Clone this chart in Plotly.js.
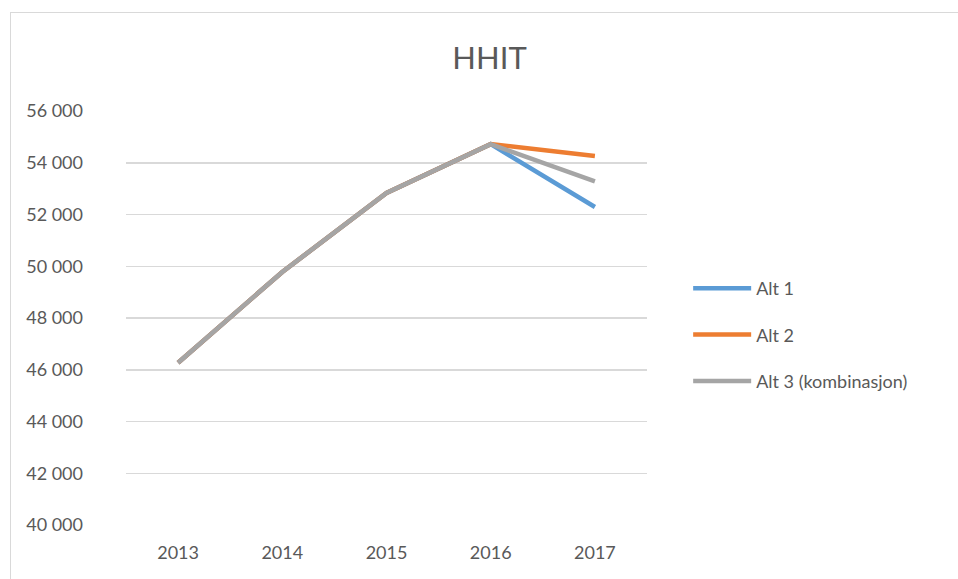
<!DOCTYPE html>
<html>
<head>
<meta charset="utf-8">
<script src="https://cdn.plot.ly/plotly-3.0.1.min.js"></script>
<style>
html,body{margin:0;padding:0;background:#fff;overflow:hidden;}
#chart{position:absolute;left:0;top:0;width:958px;height:579px;}
#frame{position:absolute;left:10px;top:12px;width:1000px;height:700px;border:1px solid #d9d9d9;pointer-events:none;}
</style>
</head>
<body>
<div id="chart"></div>
<div id="frame"></div>
<script>
var years = ['2013', '2014', '2015', '2016', '2017'];
var alt1 = [46270, 49780, 52830, 54720, 52290];
var alt2 = [46270, 49780, 52830, 54720, 54260];
var alt3 = [46270, 49780, 52830, 54720, 53280];
var seriesNames = ['Alt 1', 'Alt 2', 'Alt 3 (kombinasjon)'];
var yTicks = [40000, 42000, 44000, 46000, 48000, 50000, 52000, 54000, 56000];

var colors = ['#5B9BD5', '#ED7D31', '#A5A5A5'];
var series = [alt1, alt2, alt3];
var font = 'Lato, "Open Sans", sans-serif';

var traces = series.map(function (s, i) {
  return {
    x: years, y: s, name: seriesNames[i], type: 'scatter', mode: 'lines',
    legendgroup: 'g' + i,
    line: {color: colors[i], width: 4.5},
    hoverinfo: 'skip'
  };
});

var layout = {
  width: 958, height: 579,
  margin: {l: 126, r: 311, t: 111, b: 54},
  paper_bgcolor: '#fff', plot_bgcolor: '#fff',
  separators: ', ',
  font: {family: font, color: '#595959', size: 18},
  title: {text: 'HHIT', font: {family: font, size: 31, color: '#595959'}, x: 0.511, xanchor: 'center', y: 0.1, yanchor: 'middle', yref: 'container'},
  xaxis: {
    type: 'category', showgrid: false, zeroline: false, showline: false,
    ticks: '', tickfont: {size: 18, color: '#595959'}, ticklabelstandoff: 15,
    range: [-0.5, 4.5], fixedrange: true
  },
  yaxis: {
    range: [40000, 56000], tickvals: yTicks, tickformat: ',d',
    showgrid: true, gridcolor: '#d9d9d9', gridwidth: 1.5,
    zeroline: false, showline: false, ticks: '',
    tickfont: {size: 18, color: '#595959'}, ticklabelstandoff: 42, fixedrange: true
  },
  showlegend: true,
  legend: {
    x: 1.079, xanchor: 'left', y: 0.459, yanchor: 'middle',
    font: {size: 18, color: '#595959', family: font},
    tracegroupgap: 20, itemwidth: 58, bgcolor: 'rgba(0,0,0,0)'
  }
};
layout.title.y = 0.9;

Plotly.newPlot('chart', traces, layout, {displayModeBar: false, staticPlot: true});
</script>
</body>
</html>
